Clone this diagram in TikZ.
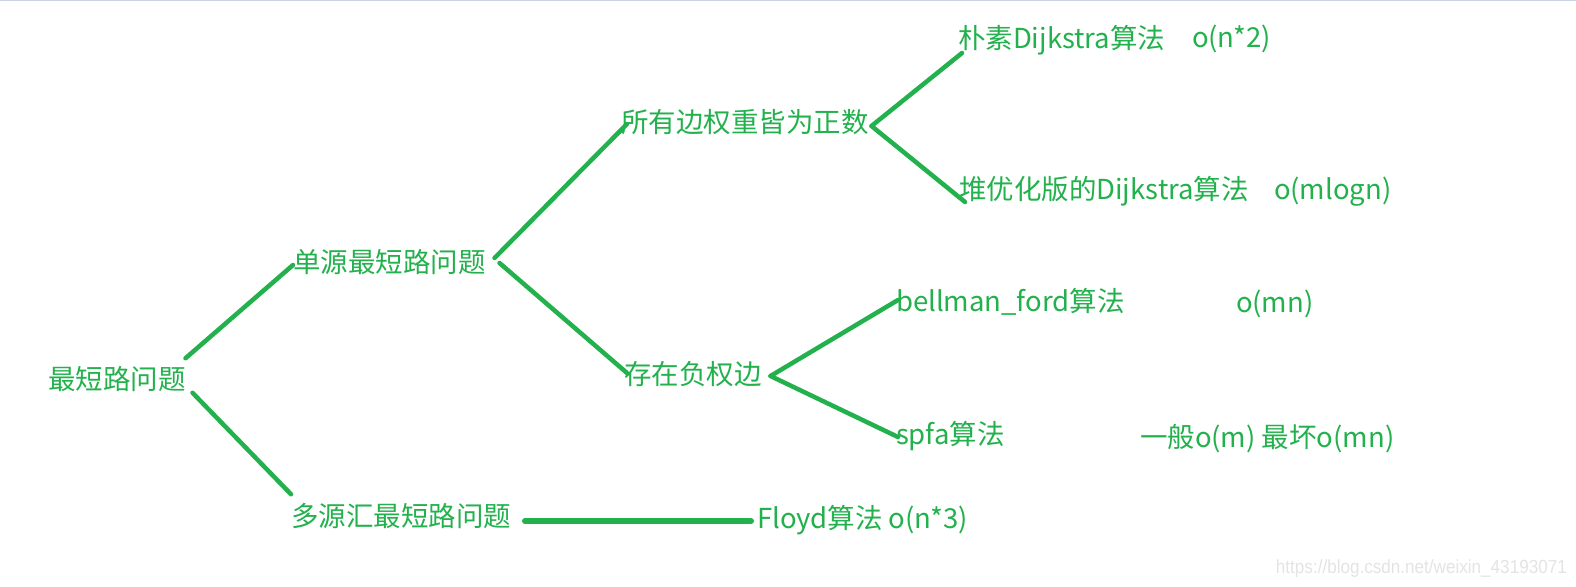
\documentclass[tikz,border=0pt]{standalone}
\usepackage{fontspec}
\setmainfont{Noto Sans CJK SC}
\newfontfamily\wmfont{Liberation Sans}
\definecolor{pgreen}{RGB}{34,177,76}
\definecolor{wmgray}{RGB}{228,228,228}
\definecolor{topline}{RGB}{200,212,228}
\begin{document}
\begin{tikzpicture}[x=1pt,y=-1pt,
  lbl/.style={anchor=west,inner sep=0pt,outer sep=0pt,text=pgreen,
    font=\fontsize{27.5}{27.5}\selectfont,text height=24.2pt,text depth=3.3pt},
  conn/.style={draw=pgreen,line width=4.5pt,line cap=round},
  thick conn/.style={draw=pgreen,line width=6pt,line cap=round}]
\useasboundingbox (0,0) rectangle (1576,586);
\fill[white] (0,0) rectangle (1576,586);
\draw[topline,line width=2pt] (0,0.5) -- (1576,0.5);

\node[lbl] (root) at (48,379) {最短路问题};
\node[lbl] (single) at (293,262) {单源最短路问题};
\node[lbl] (multi) at (291,516) {多源汇最短路问题};
\node[lbl] (pos) at (621,122) {所有边权重皆为正数};
\node[lbl] (neg) at (624,374) {存在负权边};
\node[lbl] (dij1) at (958,38) {朴素Dijkstra算法};
\node[lbl] (cx1) at (1192,37) {o(n*2)};
\node[lbl] (dij2) at (959,189) {堆优化版的Dijkstra算法};
\node[lbl] (cx2) at (1274,189) {o(mlogn)};
\node[lbl] (bf) at (896,301) {bellman\_ford算法};
\node[lbl] (cx3) at (1236,302) {o(mn)};
\node[lbl] (spfa) at (896,434) {spfa算法};
\node[lbl] (cx4) at (1140,437) {一般o(m) 最坏o(mn)};
\node[lbl] (floyd) at (757,518) {Floyd算法 o(n*3)};
\node[anchor=base east,inner sep=0pt,text=wmgray,xscale=0.9,font=\wmfont\fontsize{19}{19}\selectfont] (wm) at (1567,573) {https://blog.csdn.net/weixin\_43193071};

\draw[conn] ([yshift=7pt]root.north east) -- ([yshift=-3pt]single.west);
\draw[conn] ([xshift=7pt]root.south east) -- ([yshift=8pt]multi.north west);
\draw[conn] ([xshift=9pt,yshift=4pt]single.east) -- ([xshift=6pt,yshift=-2pt]pos.west);
\draw[conn] ([xshift=14pt,yshift=-1pt]single.east) -- ([xshift=3pt,yshift=1pt]neg.west);
\draw[conn] ([xshift=3pt,yshift=-4pt]pos.east) -- ([xshift=4pt,yshift=-15pt]dij1.west);
\draw[conn] ([xshift=3pt,yshift=-4pt]pos.east) -- ([xshift=6pt,yshift=-13pt]dij2.west);
\draw[conn] ([xshift=9pt,yshift=-2pt]neg.east) -- ([xshift=2pt,yshift=1pt]bf.west);
\draw[conn] ([xshift=9pt,yshift=-2pt]neg.east) -- ([xshift=2pt,yshift=-3pt]spfa.west);
\draw[thick conn] ([xshift=14pt,yshift=-5pt]multi.east) -- ([xshift=-6pt,yshift=-3pt]floyd.west);
\end{tikzpicture}
\end{document}
